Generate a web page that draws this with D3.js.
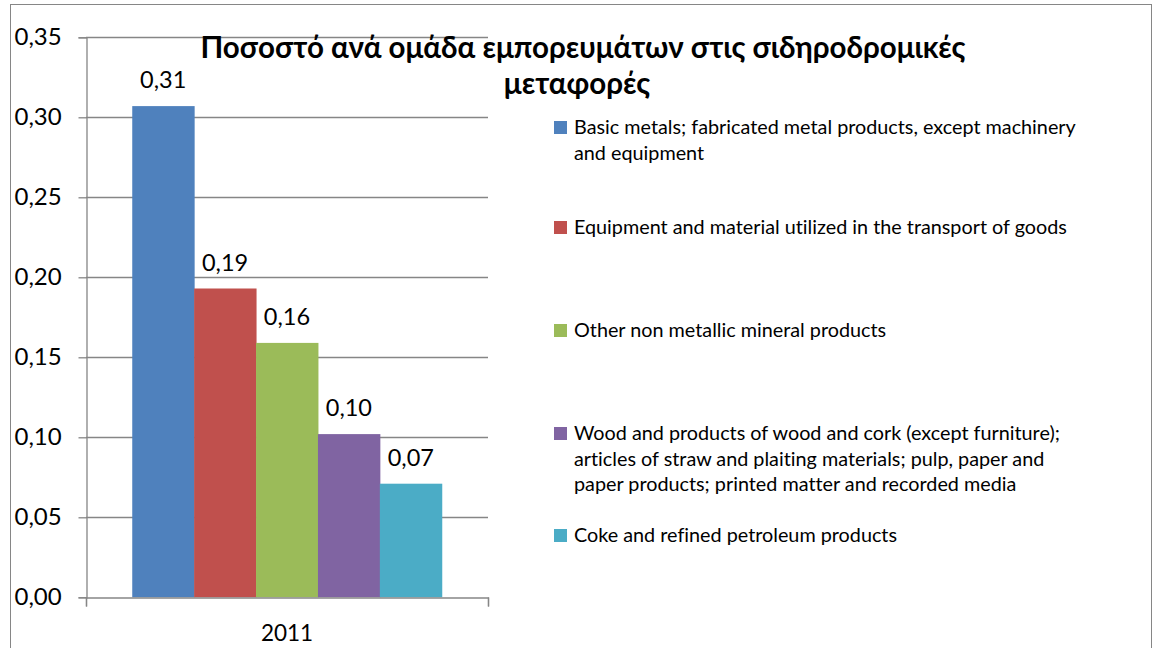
<!DOCTYPE html>
<html>
<head>
<meta charset="utf-8">
<script src="https://cdn.jsdelivr.net/npm/d3@7"></script>
<style>
  html, body { margin: 0; padding: 0; background: #fff; }
  svg { display: block; }
  text { font-family: Lato, "Open Sans", sans-serif; fill: #000; font-variant-ligatures: none; }
</style>
</head>
<body>
<svg id="chart" width="1154" height="648"></svg>
<script>
// Share of each commodity group in rail freight, 2011
const years = ["2011"];
const seriesNames = [
  "Basic metals; fabricated metal products, except machinery and equipment",
  "Equipment and material utilized in the transport of goods",
  "Other non metallic mineral products",
  "Wood and products of wood and cork (except furniture); articles of straw and plaiting materials; pulp, paper and paper products; printed matter and recorded media",
  "Coke and refined petroleum products"
];
const seriesValues = [0.307, 0.193, 0.159, 0.102, 0.071];
const seriesColors = ["#4f81bd", "#c0504d", "#9bbb59", "#8064a2", "#4bacc6"];
const yTicks = [0, 0.05, 0.10, 0.15, 0.20, 0.25, 0.30, 0.35];
const legendLines = [
  ["Basic metals; fabricated metal products, except machinery", "and equipment"],
  ["Equipment and material utilized in the transport of goods"],
  ["Other non metallic mineral products"],
  ["Wood and products of wood and cork (except furniture);", "articles of straw and plaiting materials; pulp, paper and", "paper products; printed matter and recorded media"],
  ["Coke and refined petroleum products"]
];
const titleLines = ["Ποσοστό ανά ομάδα εμπορευμάτων στις σιδηροδρομικές", "μεταφορές"];

const svg = d3.select("#chart");
const comma = v => d3.format(".2f")(v).replace(".", ",");

// outer chart frame
svg.append("rect")
  .attr("x", 10.5).attr("y", 4.5)
  .attr("width", 1141).attr("height", 660)
  .attr("fill", "none").attr("stroke", "#868686").attr("stroke-width", 1);

const plot = { left: 86, right: 488, top: 37.3, bottom: 597.3 };

const y = d3.scaleLinear().domain([0, 0.35]).range([plot.bottom, plot.top]);
const x0 = d3.scaleBand().domain(years).range([plot.left, plot.right]).padding(0.13);
const x1 = d3.scaleBand().domain(d3.range(seriesValues.length)).range([0, x0.bandwidth()]);

// gridlines
svg.append("g")
  .selectAll("line").data(yTicks.filter(t => t > 0)).join("line")
  .attr("x1", plot.left).attr("x2", plot.right)
  .attr("y1", d => Math.round(y(d)) + 0.5).attr("y2", d => Math.round(y(d)) + 0.5)
  .attr("stroke", "#868686").attr("stroke-width", 1.3);

// bars
const group = svg.append("g").attr("transform", `translate(${x0("2011")},0)`);
group.selectAll("rect").data(seriesValues).join("rect")
  .attr("x", (d, i) => x1(i))
  .attr("width", x1.bandwidth() + 0.5)
  .attr("y", d => y(d))
  .attr("height", d => y(0) - y(d))
  .attr("fill", (d, i) => seriesColors[i]);

// data labels
group.selectAll("text.val").data(seriesValues).join("text")
  .attr("class", "val")
  .attr("x", (d, i) => x1(i) + x1.bandwidth() / 2)
  .attr("y", d => y(d) - 18)
  .attr("text-anchor", "middle")
  .attr("font-size", 23.5)
  .text(d => comma(d));

// y axis
const yAxis = d3.axisLeft(y).tickValues(yTicks).tickSize(8).tickPadding(14).tickFormat(comma);
const gy = svg.append("g").attr("transform", `translate(${plot.left + 0.5},0)`).call(yAxis);
gy.select(".domain").attr("stroke", "#868686").attr("stroke-width", 1.3);
gy.selectAll(".tick line").attr("stroke", "#868686").attr("stroke-width", 1.3);
gy.selectAll(".tick text").attr("font-size", 24).attr("font-family", "Lato, sans-serif").attr("fill", "#000");
gy.selectAll(".tick text").attr("x", -72).attr("text-anchor", "start");

// x axis
const xAxisLine = d3.scaleLinear().domain([0, 1]).range([plot.left, plot.right]);
const xAxis = d3.axisBottom(xAxisLine).tickValues([0, 1]).tickSize(9).tickFormat("");
const gx = svg.append("g").attr("transform", `translate(0,${Math.round(plot.bottom) + 0.5})`).call(xAxis);
gx.select(".domain").attr("stroke", "#868686").attr("stroke-width", 1.3);
gx.selectAll(".tick line").attr("stroke", "#868686").attr("stroke-width", 1.3);
svg.append("g").selectAll("text").data(years).join("text")
  .attr("x", d => x0(d) + x0.bandwidth() / 2)
  .attr("y", 641)
  .attr("text-anchor", "middle")
  .attr("font-size", 22.5)
  .text(d => d);

// title
svg.append("g").selectAll("text").data(titleLines).join("text")
  .attr("x", (d, i) => i === 0 ? 583 : 577)
  .attr("y", (d, i) => 58 + i * 36)
  .attr("text-anchor", "middle")
  .attr("font-size", 29.5)
  .attr("font-weight", "bold")
  .text(d => d);

// legend
const legendY = [127, 227, 330, 433, 535];
const legend = svg.append("g");
legendLines.forEach((lines, i) => {
  const g = legend.append("g").attr("transform", `translate(554,${legendY[i]})`);
  g.append("rect").attr("x", 0).attr("y", -6).attr("width", 13).attr("height", 13)
    .attr("fill", seriesColors[i]);
  g.selectAll("text").data(lines).join("text")
    .attr("x", 20)
    .attr("y", (d, j) => j * 25.5 + 7)
    .attr("font-size", 19.8)
    .text(d => d);
});
</script>
</body>
</html>
